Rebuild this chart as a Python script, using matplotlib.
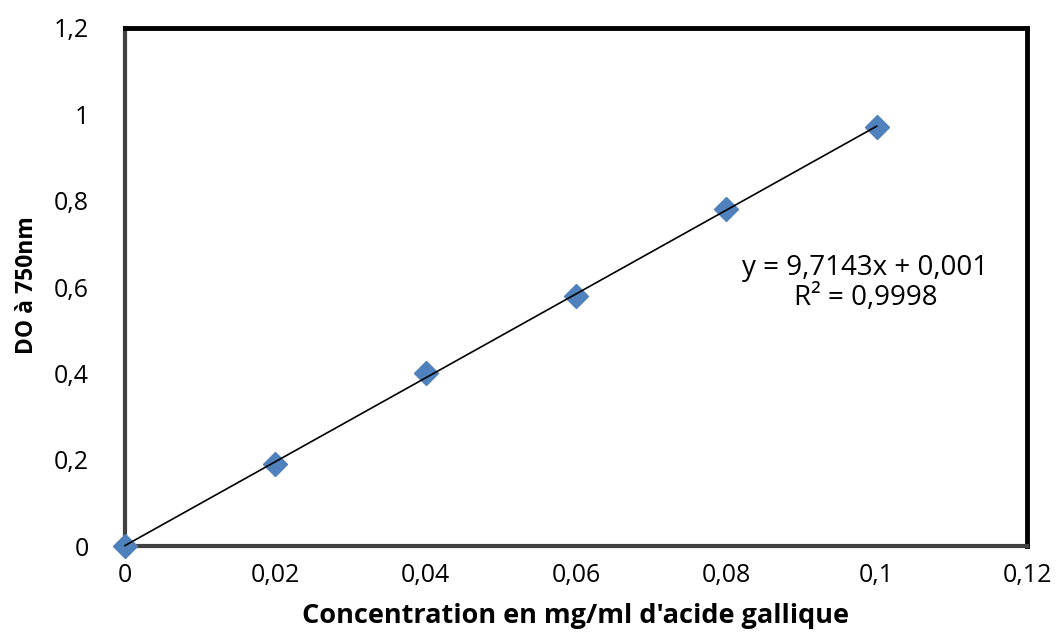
import numpy as np
import matplotlib
matplotlib.use("Agg")
import matplotlib.pyplot as plt

plt.rcParams['font.family'] = ['Open Sans', 'DejaVu Sans']

conc = [0, 0.02, 0.04, 0.06, 0.08, 0.1]
do = [0.0, 0.19, 0.40, 0.58, 0.78, 0.97]
slope = 9.7143
intercept = 0.001
xticks = [0, 0.02, 0.04, 0.06, 0.08, 0.1, 0.12]
xticklabels = ['0', '0,02', '0,04', '0,06', '0,08', '0,1', '0,12']
yticks = [0, 0.2, 0.4, 0.6, 0.8, 1.0, 1.2]
yticklabels = ['0', '0,2', '0,4', '0,6', '0,8', '1', '1,2']

fig = plt.figure(figsize=(10.59, 6.33), dpi=100)
ax = fig.add_axes([125/1059, 1-546/633, (1027-125)/1059, (546-28)/633])

ax.plot(conc, do, linestyle='none', marker='D', markersize=12,
        color='#4F81BD', markeredgecolor='#4F81BD', zorder=3, clip_on=False)
xl = np.array([conc[0], conc[-1]])
ax.plot(xl, slope*xl + intercept, color='black', linewidth=1.2, zorder=4,
        clip_on=False)

ax.set_xlim(0, 0.12)
ax.set_ylim(0, 1.2)
ax.set_xticks(xticks)
ax.set_xticklabels(xticklabels, fontsize=18)
ax.set_yticks(yticks)
ax.set_yticklabels(yticklabels, fontsize=18)
ax.tick_params(length=0)
ax.tick_params(axis='x', pad=12)
ax.tick_params(axis='y', pad=26)

for s in ['left', 'bottom']:
    ax.spines[s].set_color('#404040')
    ax.spines[s].set_linewidth(3)
for s in ['top', 'right']:
    ax.spines[s].set_color('black')
    ax.spines[s].set_linewidth(3.5)

ax.set_xlabel("Concentration en mg/ml d'acide gallique", fontsize=19.5,
              fontweight='bold')
ax.xaxis.set_label_coords(0.5, -0.11)
ax.set_ylabel("DO à 750nm", fontsize=16.5, fontweight='bold')
ax.yaxis.set_label_coords(-0.095, 0.504)

ax.text(0.0985, 0.609, "y = 9,7143x + 0,001\nR² = 0,9998", fontsize=20,
        ha='center', va='center', linespacing=1.1)

fig.savefig('out.png', dpi=100)
